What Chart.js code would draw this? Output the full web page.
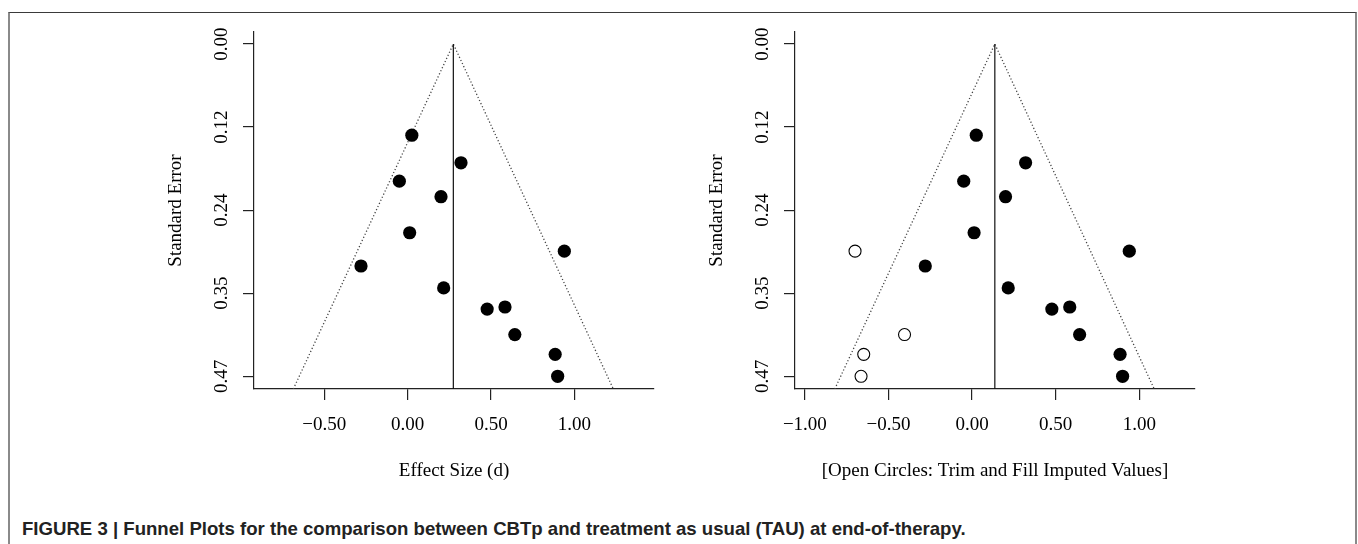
<!DOCTYPE html>
<html>
<head>
<meta charset="utf-8">
<title>Funnel Plots</title>
<script src="https://cdn.jsdelivr.net/npm/chart.js@4.4.0/dist/chart.umd.min.js"></script>
<style>
    html, body { margin: 0; padding: 0; background: #fff; }
    body { width: 1358px; height: 544px; position: relative; overflow: hidden; }
    .frame {
        position: absolute; left: 8px; top: 12px; width: 1345px; height: 600px;
        border-top: 1.5px solid #3a3a3a;
        border-left: 2px solid #8a8a8a;
        border-right: 2px solid #8a8a8a;
    }
    .panel { position: absolute; top: 0; }
    #leftPanel { left: 0; }
    #rightPanel { left: 670px; }
    .caption {
        position: absolute; left: 22px; top: 520px; margin: 0;
        font-family: "Liberation Sans", Arial, sans-serif; font-weight: bold;
        font-size: 18.6px; line-height: 1; color: #222; white-space: nowrap;
    }
</style>
</head>
<body>
<div class="frame"></div>
<div class="panel" id="leftPanel"><canvas id="leftChart" width="670" height="500"></canvas></div>
<div class="panel" id="rightPanel"><canvas id="rightChart" width="688" height="500"></canvas></div>
<p class="caption">FIGURE 3 | Funnel Plots for the comparison between CBTp and treatment as usual (TAU) at end-of-therapy.</p>

<script>
// Study values
const effectSize = [0.025, 0.32, -0.05, 0.2, 0.012, 0.94, -0.28, 0.216, 0.477, 0.584, 0.643, 0.885, 0.9];
const standardError = [0.129, 0.168, 0.194, 0.216, 0.267, 0.293, 0.314, 0.345, 0.375, 0.372, 0.411, 0.439, 0.47];

// Trim and fill imputed studies (open circles)
const imputedEffect = [-0.70, -0.404, -0.648, -0.664];
const imputedSE = [0.293, 0.411, 0.439, 0.47];

// Pooled estimates and funnel edges
const leftEstimate = 0.274;
const rightEstimate = 0.136;
const funnelSE = [0.488, 0, 0.488];
const leftFunnelX = [-0.686, 0.274, 1.234];
const rightFunnelX = [-0.821, 0.136, 1.089];

// Tick labels
const seTicks = [0, 0.1175, 0.235, 0.3525, 0.47];
const seTickLabels = ['0.00', '0.12', '0.24', '0.35', '0.47'];
const leftXTicks = [-0.5, 0, 0.5, 1];
const leftXTickLabels = ['\u22120.50', '0.00', '0.50', '1.00'];
const rightXTicks = [-1, -0.5, 0, 0.5, 1];
const rightXTickLabels = ['\u22121.00', '\u22120.50', '0.00', '0.50', '1.00'];

const serif = '"Liberation Serif", "Times New Roman", serif';

function toPoints(xs, ys) {
    return xs.map((x, i) => ({ x: x, y: ys[i] }));
}

// Rotated y tick labels and title, R style
const seLabelsPlugin = {
    id: 'seLabels',
    afterDraw(chart) {
        const { ctx, chartArea, scales } = chart;
        ctx.save();
        ctx.fillStyle = '#000';
        ctx.font = '19px ' + serif;
        ctx.textAlign = 'center';
        ctx.textBaseline = 'middle';
        scales.y.ticks.forEach((t, i) => {
            const py = scales.y.getPixelForValue(t.value);
            ctx.save();
            ctx.translate(chartArea.left - 32, py);
            ctx.rotate(-Math.PI / 2);
            ctx.fillText(seTickLabels[i], 0, 0);
            ctx.restore();
        });
        ctx.translate(chartArea.left - 78, (chartArea.top + chartArea.bottom) / 2);
        ctx.rotate(-Math.PI / 2);
        ctx.fillText('Standard Error', 0, 0);
        ctx.restore();
    }
};

// Create Funnel Chart
function createFunnel(canvasId, opts) {
    const ctx = document.getElementById(canvasId).getContext('2d');

    const datasets = [];
    if (opts.imputed) {
        datasets.push({
            label: 'Imputed',
            data: toPoints(imputedEffect, imputedSE),
            backgroundColor: '#fff',
            borderColor: '#000',
            borderWidth: 1.1,
            pointRadius: 6
        });
    }
    datasets.push({
        label: 'Studies',
        data: toPoints(effectSize, standardError),
        backgroundColor: '#000',
        borderColor: '#000',
        borderWidth: 0,
        pointRadius: 6.6
    });
    datasets.push({
        label: 'Estimate',
        data: toPoints([opts.estimate, opts.estimate], [0, funnelSE[0]]),
        showLine: true,
        borderColor: '#111',
        borderWidth: 1.2,
        pointRadius: 0
    });
    datasets.push({
        label: 'Funnel',
        data: toPoints(opts.funnelX, funnelSE),
        showLine: true,
        borderColor: '#444',
        borderWidth: 1.3,
        borderDash: [1.2, 2.2],
        pointRadius: 0
    });

    return new Chart(ctx, {
        type: 'scatter',
        data: { datasets: datasets },
        options: {
            responsive: false,
            animation: false,
            events: [],
            layout: { padding: { left: 0, top: 32, right: opts.padRight, bottom: 0 } },
            plugins: {
                legend: { display: false },
                tooltip: { enabled: false }
            },
            scales: {
                x: {
                    type: 'linear',
                    min: opts.xMin,
                    max: opts.xMax,
                    afterBuildTicks: function(scale) {
                        scale.ticks = opts.xTicks.map(v => ({ value: v }));
                    },
                    afterFit: function(scale) { scale.height = 111; },
                    ticks: {
                        callback: function(value, index) { return opts.xTickLabels[index]; },
                        color: '#000',
                        font: { family: serif, size: 19 },
                        padding: 14,
                        maxRotation: 0,
                        autoSkip: false
                    },
                    grid: { drawOnChartArea: false, drawTicks: true, tickLength: 11, color: '#222', lineWidth: 1.2 },
                    border: { display: true, color: '#222', width: 1.2 },
                    title: {
                        display: true,
                        text: opts.xTitle,
                        color: '#000',
                        font: { family: serif, size: 19 },
                        padding: { top: 0, bottom: 18 }
                    }
                },
                y: {
                    type: 'linear',
                    reverse: true,
                    min: -0.017,
                    max: 0.488,
                    afterBuildTicks: function(scale) {
                        scale.ticks = seTicks.map(v => ({ value: v }));
                    },
                    afterFit: function(scale) { scale.width = opts.yWidth; },
                    ticks: { display: false },
                    grid: { drawOnChartArea: false, drawTicks: true, tickLength: 11, color: '#222', lineWidth: 1.2 },
                    border: { display: true, color: '#222', width: 1.2 }
                }
            }
        },
        plugins: [seLabelsPlugin]
    });
}

createFunnel('leftChart', {
    estimate: leftEstimate,
    funnelX: leftFunnelX,
    xMin: -0.922,
    xMax: 1.478,
    xTicks: leftXTicks,
    xTickLabels: leftXTickLabels,
    xTitle: 'Effect Size (d)',
    yWidth: 254,
    padRight: 16,
    imputed: false
});

createFunnel('rightChart', {
    estimate: rightEstimate,
    funnelX: rightFunnelX,
    xMin: -1.059,
    xMax: 1.333,
    xTicks: rightXTicks,
    xTickLabels: rightXTickLabels,
    xTitle: '[Open Circles: Trim and Fill Imputed Values]',
    yWidth: 125,
    padRight: 163,
    imputed: true
});
</script>
</body>
</html>
